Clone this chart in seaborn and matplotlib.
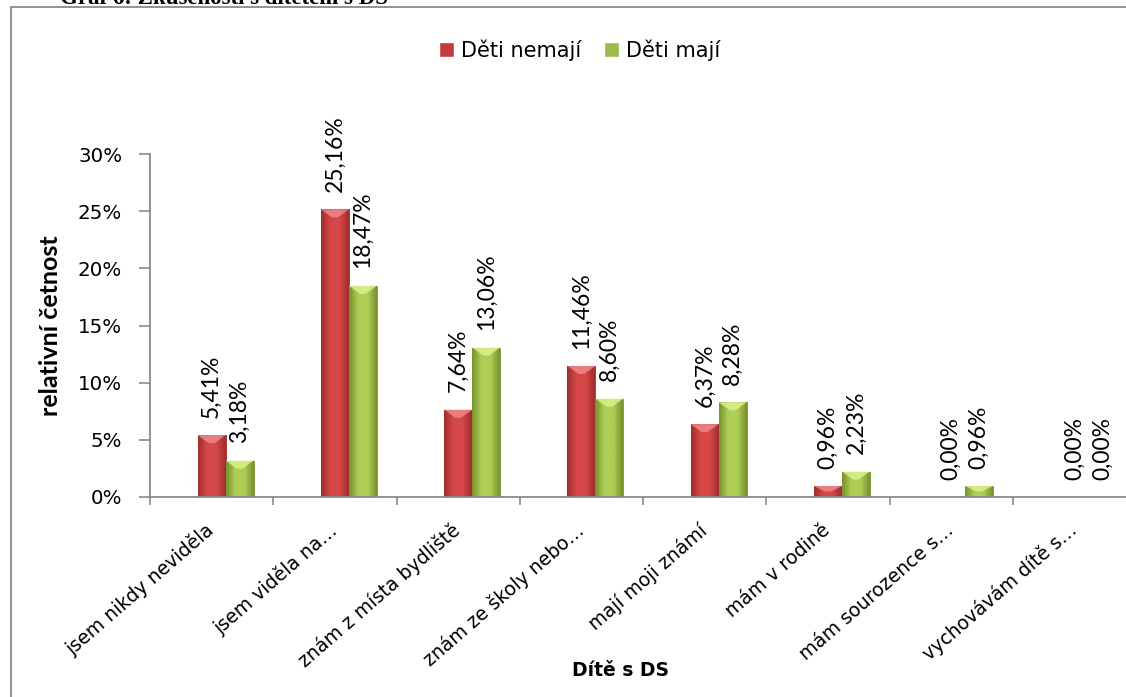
import numpy as np
import pandas as pd
import matplotlib
matplotlib.use("Agg")
import matplotlib.pyplot as plt
from matplotlib.patches import Rectangle, Polygon
from matplotlib.colors import LinearSegmentedColormap
from matplotlib.ticker import FixedLocator, FuncFormatter
import seaborn as sns

categories = [
    "jsem nikdy neviděla",
    "jsem viděla na…",
    "znám z místa bydliště",
    "znám ze školy nebo…",
    "mají moji známí",
    "mám v rodině",
    "mám sourozence s…",
    "vychovávám dítě s…",
]
series_names = ["Děti nemají", "Děti mají"]
deti_nemaji = [5.41, 25.16, 7.64, 11.46, 6.37, 0.96, 0.00, 0.00]
deti_maji = [3.18, 18.47, 13.06, 8.60, 8.28, 2.23, 0.96, 0.00]
y_ticks = [0, 5, 10, 15, 20, 25, 30]

sns.set_theme(style="white")
plt.rcParams["font.family"] = ["DejaVu Sans"]
plt.rcParams["text.color"] = "black"
plt.rcParams["axes.labelcolor"] = "black"
WIDE = ["DejaVu Sans"]
NARROW = ["Lato", "DejaVu Sans"]

df = pd.DataFrame({
    "kategorie": categories * 2,
    "skupina": [series_names[0]] * len(categories) + [series_names[1]] * len(categories),
    "hodnota": deti_nemaji + deti_maji,
})

fig = plt.figure(figsize=(11.26, 6.97), dpi=100)
W, H = 1126, 697

# outer chart frame (runs off the right and bottom edge)
fig.patches.append(Rectangle((11 / W, -0.2), 1.2, 1.2 - 7 / H, transform=fig.transFigure,
                             fill=False, edgecolor="#8a8a8a", linewidth=1.3, zorder=0))

fig.text(60 / W, 1 - 4 / H, "Graf 6: Zkušenosti s dítětem s DS", family="Liberation Serif",
         fontweight="bold", fontsize=16.5, ha="left", va="baseline")

ax = fig.add_axes([150 / W, 200 / H, 986 / W, 343 / H])

red = "#c43b3b"
green = "#9cbb4c"
sns.barplot(data=df, x="kategorie", y="hodnota", hue="skupina", order=categories,
            hue_order=series_names, palette=[red, green], width=0.454, saturation=1,
            ax=ax, legend=True)

ax.set_xlim(-0.6135, len(categories) - 0.6135)
ax.set_ylim(0, 30)

# shaded, bevelled look for every bar
shades = [
    ("#a12d2d", "#d64848", "#f08c8c"),
    ("#76932f", "#b0ce56", "#def28e"),
]
for cont, (dark, mid, light) in zip(ax.containers, shades):
    cmap = LinearSegmentedColormap.from_list("shade", [dark, mid, mid, dark])
    grad = np.linspace(0, 1, 64).reshape(1, -1)
    for bar in cont:
        x0, y0 = bar.get_x(), bar.get_y()
        w, h = bar.get_width(), bar.get_height()
        bar.set_edgecolor(dark)
        bar.set_linewidth(0.6)
        if h <= 0:
            continue
        im = ax.imshow(grad, cmap=cmap, aspect="auto", extent=(x0, x0 + w, y0, y0 + h),
                       interpolation="bicubic", zorder=bar.get_zorder() + 0.1)
        im.set_clip_path(bar)
        bev = min(0.7, h * 0.5)
        ax.add_patch(Polygon([(x0, y0 + h), (x0 + w, y0 + h), (x0 + w * 0.6, y0 + h - bev),
                              (x0 + w * 0.4, y0 + h - bev)], closed=True,
                             facecolor=light, edgecolor="none", alpha=0.8,
                             zorder=bar.get_zorder() + 0.2))
ax.set_xlim(-0.6135, len(categories) - 0.6135)
ax.set_ylim(0, 30)

for cont, vals in zip(ax.containers, [deti_nemaji, deti_maji]):
    ax.bar_label(cont, labels=[f"{v:.2f}".replace(".", ",") + "%" for v in vals],
                 rotation=90, padding=12.5, fontsize=16.5, family=NARROW, color="black")

shift = 0.1135
ax.xaxis.set_major_locator(FixedLocator(np.arange(len(categories) + 1) - 0.5 - shift))
ax.xaxis.set_minor_locator(FixedLocator(np.arange(len(categories)) - shift))
ax.set_xticklabels([], minor=False)
ax.set_xticklabels(categories, minor=True, rotation=41, ha="right", va="center",
                   rotation_mode="anchor", fontsize=13.6, family=WIDE)
ax.tick_params(axis="x", which="major", direction="out", length=6, width=1.2,
               color="#8a8a8a", bottom=True)
ax.tick_params(axis="x", which="minor", length=0, pad=22, labelcolor="black")

ax.set_yticks(y_ticks)
ax.yaxis.set_major_formatter(FuncFormatter(lambda v, p: f"{v:.0f}%"))
ax.tick_params(axis="y", direction="out", length=8, width=1.2, color="#8a8a8a",
               left=True, pad=12, labelsize=14.3, labelcolor="black")

for s in ["top", "right"]:
    ax.spines[s].set_visible(False)
for s in ["left", "bottom"]:
    ax.spines[s].set_color("#8a8a8a")
    ax.spines[s].set_linewidth(1.3)
    ax.spines[s].set_zorder(5)

ax.set_xlabel("")
ax.set_ylabel("relativní četnost", fontsize=18, fontweight="bold", family=NARROW)
ax.yaxis.set_label_coords(-88 / 986, 0.5)
fig.text(620 / W, 1 - 670 / H, "Dítě s DS", fontsize=13.5, fontweight="bold",
         family=WIDE, ha="center", va="center")

sns.move_legend(ax, "center", bbox_to_anchor=(580 / W, 1 - 50 / H),
                bbox_transform=fig.transFigure, ncol=2, frameon=False, title=None,
                fontsize=15, handlelength=0.7, handleheight=0.7, handletextpad=0.35,
                columnspacing=1.1, labelcolor="black")

fig.savefig("out.png", dpi=100)
